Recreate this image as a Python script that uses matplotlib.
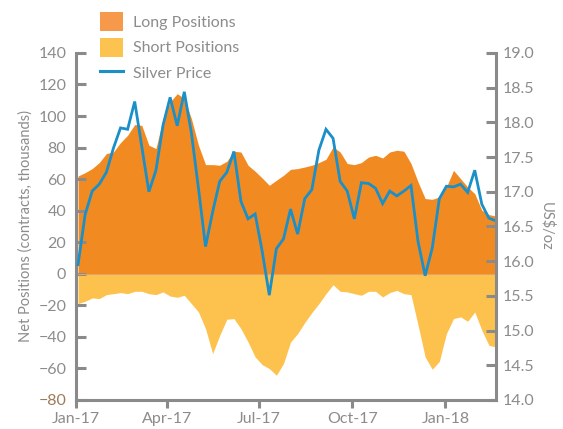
import pandas as pd
import matplotlib
matplotlib.use("Agg")
import matplotlib.pyplot as plt
import matplotlib.dates as mdates
from matplotlib.patches import Patch
from matplotlib.lines import Line2D

# Datos semanales (COT)
fechas = pd.date_range("2017-01-03", periods=60, freq="7D")

long_pos = [62.0, 64.1, 66.7, 70.5, 76.2, 77.2, 83.2, 87.8, 94.6, 94.1,
            81.5, 79.4, 98.4, 108.9, 114.2, 111.1, 98.4, 81.5, 69.2, 69.2,
            68.8, 71.3, 77.7, 77.2, 68.8, 65.0, 60.7, 56.1, 59.3, 62.4,
            66.2, 66.7, 67.7, 68.8, 70.5, 72.6, 80.4, 77.2, 69.9, 69.2,
            70.5, 74.0, 75.1, 73.4, 77.2, 78.3, 77.7, 69.9, 58.2, 47.7,
            47.2, 48.7, 55.0, 65.6, 60.3, 55.0, 50.8, 40.3, 37.5, 36.6]

short_pos = [-18.9, -17.4, -15.3, -15.7, -13.2, -12.6, -11.9, -12.6, -11.1, -11.1,
             -12.6, -13.2, -11.5, -14.1, -14.9, -13.6, -18.9, -24.2, -34.8, -50.6,
             -39.0, -28.8, -28.4, -34.8, -43.2, -52.7, -57.6, -60.1, -64.3, -56.9,
             -43.2, -37.9, -30.9, -24.6, -18.9, -12.6, -6.9, -11.1, -11.5, -12.6,
             -13.6, -11.1, -11.1, -14.7, -11.9, -10.5, -12.6, -13.2, -32.6, -52.7,
             -60.5, -55.5, -37.9, -28.4, -27.3, -30.1, -24.2, -35.8, -45.3, -46.4]

silver = [15.95, 16.67, 17.01, 17.11, 17.28, 17.63, 17.92, 17.90, 18.30, 17.65,
          17.00, 17.31, 17.96, 18.36, 17.95, 18.44, 17.85, 17.05, 16.21, 16.71,
          17.15, 17.28, 17.58, 16.86, 16.61, 16.68, 16.14, 15.51, 16.18, 16.32,
          16.75, 16.39, 16.90, 17.03, 17.60, 17.90, 17.77, 17.15, 17.01, 16.61,
          17.13, 17.12, 17.05, 16.83, 17.01, 16.94, 17.01, 17.09, 16.28, 15.79,
          16.19, 16.90, 17.08, 17.07, 17.11, 16.99, 17.31, 16.82, 16.62, 16.58]

etiquetas = ["Long Positions", "Short Positions", "Silver Price"]

# Estilo
plt.rcParams["font.family"] = ["Lato", "DejaVu Sans"]
gris = "#8c8c8c"
gris_spine = "#8a8a8a"
c_long = "#f28a22"
c_short = "#fdc24d"
c_line = "#1b8fc8"

fig = plt.figure(figsize=(5.63, 4.29), dpi=100)
ax = fig.add_axes([0.135, 0.0676, 0.746, 0.809])

ax.fill_between(fechas, 0, long_pos, color=c_long, lw=0)
ax.fill_between(fechas, 0, short_pos, color=c_short, lw=0)
ax.axhline(0, color="#e6a25e", lw=0.8)

ax.set_ylim(-80, 140)
ax.set_yticks(range(-80, 141, 20))
ax.set_xlim(pd.Timestamp("2017-01-01"), pd.Timestamp("2018-02-20"))
ax.xaxis.set_major_locator(mdates.MonthLocator(bymonth=[1, 4, 7, 10]))
ax.xaxis.set_major_formatter(mdates.DateFormatter("%b-%y"))

ax2 = ax.twinx()
ax2.plot(fechas, silver, color=c_line, lw=2.0, solid_joinstyle="miter")
ax2.set_ylim(14.0, 19.0)
ax2.set_yticks([14.0 + 0.5 * i for i in range(11)])
ax2.yaxis.set_major_formatter(plt.FormatStrFormatter("%.1f"))

for a in (ax, ax2):
    a.spines["top"].set_visible(False)
    for s in ("left", "right", "bottom"):
        a.spines[s].set_color(gris_spine)
        a.spines[s].set_linewidth(2.2)
    a.patch.set_visible(False)
ax.spines["right"].set_visible(False)
ax2.spines["left"].set_visible(False)
ax2.spines["bottom"].set_visible(False)

ax.tick_params(axis="y", direction="in", length=7, width=2.2, color=gris_spine,
               labelcolor=gris, labelsize=11.5, pad=7)
ax.tick_params(axis="x", direction="out", length=6, width=2.2, color=gris_spine,
               labelcolor=gris, labelsize=11.5, pad=3)
ax2.tick_params(axis="y", direction="in", length=7, width=2.2, color=gris_spine,
                labelcolor=gris, labelsize=11.5, pad=5)
ax.get_yticklabels()[0].set_color("#9c7b5a")

ax.set_ylabel("Net Positions (contracts, thousands)", color=gris, fontsize=10.5, labelpad=4)
ax2.set_ylabel("US$/oz", color=gris, fontsize=10.5, rotation=270, labelpad=14)

# Leyenda
handles = [Patch(facecolor="#f7994b", edgecolor="none"),
           Patch(facecolor="#fdc350", edgecolor="none"),
           Line2D([0], [0], color=c_line, lw=2.2)]
leg = fig.legend(handles, etiquetas, loc="upper left", bbox_to_anchor=(100 / 563, 1 - 12 / 429),
                 frameon=False, fontsize=11.5, handlelength=1.45, handleheight=1.45,
                 labelspacing=0.42, handletextpad=0.6, borderpad=0, borderaxespad=0)
for t in leg.get_texts():
    t.set_color(gris)

fig.savefig("out.png", dpi=100)
